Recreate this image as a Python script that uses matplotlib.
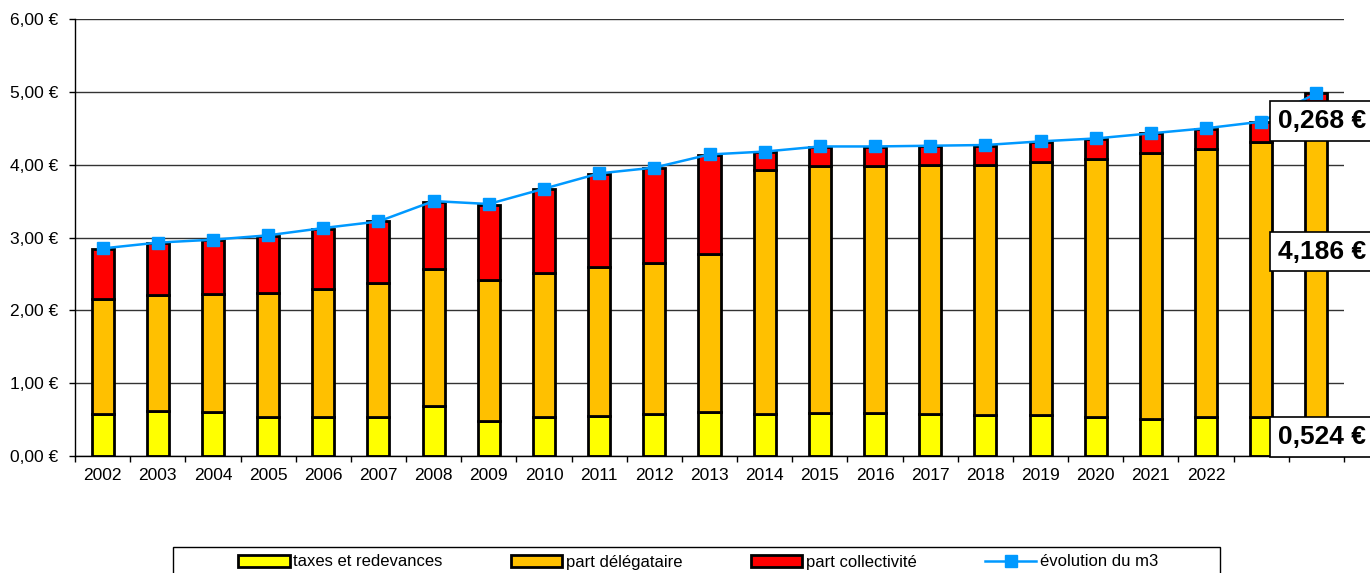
import matplotlib.pyplot as plt
import numpy as np
from matplotlib.ticker import FixedLocator, FuncFormatter, NullFormatter
from matplotlib.patches import Rectangle

plt.rcParams['font.family'] = ['Liberation Sans', 'DejaVu Sans']

# Data (€/m3)
years = ['2002', '2003', '2004', '2005', '2006', '2007', '2008', '2009', '2010', '2011',
         '2012', '2013', '2014', '2015', '2016', '2017', '2018', '2019', '2020', '2021',
         '2022', '', '']
taxes = [0.58, 0.62, 0.60, 0.54, 0.53, 0.53, 0.68, 0.48, 0.53, 0.55, 0.58, 0.60,
         0.57, 0.59, 0.59, 0.58, 0.56, 0.56, 0.53, 0.51, 0.53, 0.53, 0.524]
delegataire = [1.57, 1.59, 1.63, 1.70, 1.76, 1.84, 1.89, 1.94, 1.98, 2.04, 2.07, 2.17,
               3.35, 3.39, 3.39, 3.41, 3.43, 3.48, 3.55, 3.65, 3.69, 3.78, 4.186]
collectivite = [0.69, 0.72, 0.73, 0.78, 0.83, 0.85, 0.92, 1.03, 1.15, 1.28, 1.30, 1.36,
                0.25, 0.26, 0.26, 0.26, 0.27, 0.27, 0.27, 0.27, 0.27, 0.28, 0.268]
evolution = [2.85, 2.93, 2.97, 3.03, 3.13, 3.22, 3.50, 3.46, 3.67, 3.88, 3.96, 4.14,
             4.18, 4.25, 4.25, 4.26, 4.27, 4.32, 4.36, 4.43, 4.50, 4.59, 4.98]
labels = ['taxes et redevances', 'part délégataire', 'part collectivité', 'évolution du m3']
colors = ['#FFFF00', '#FFC000', '#FF0000']
line_color = '#0099FF'

W, H = 1370, 573
fig = plt.figure(figsize=(W / 100, H / 100), dpi=100)
ax = fig.add_axes([75 / W, (H - 456) / H, 1269 / W, 437 / H])

x = np.arange(len(years))
taxes_a = np.array(taxes)
deleg_a = np.array(delegataire)
coll_a = np.array(collectivite)

bar_kw = dict(width=0.4, edgecolor='black', linewidth=2, zorder=3)
b1 = ax.bar(x, taxes_a, color=colors[0], **bar_kw)
b2 = ax.bar(x, deleg_a, bottom=taxes_a, color=colors[1], **bar_kw)
b3 = ax.bar(x, coll_a, bottom=taxes_a + deleg_a, color=colors[2], **bar_kw)
ln, = ax.plot(x, evolution, color=line_color, lw=1.8, marker='s', markersize=9,
              markeredgecolor=line_color, zorder=5)

# axes styling
ax.set_xlim(-0.5, len(years) - 0.5)
ax.set_ylim(0, 6)
ax.set_yticks(np.arange(0, 7, 1))
ax.yaxis.set_major_formatter(FuncFormatter(lambda v, p: f'{v:.2f}'.replace('.', ',') + ' €'))
ax.set_xticks(x)
ax.set_xticklabels(years)
ax.xaxis.set_minor_locator(FixedLocator(np.arange(-0.5, len(years), 1)))
ax.xaxis.set_minor_formatter(NullFormatter())
ax.tick_params(axis='x', which='major', length=0, pad=8.5, labelsize=12.5)
ax.tick_params(axis='x', which='minor', length=4, width=1, direction='out')
ax.tick_params(axis='y', length=4, width=1, pad=8, labelsize=12.5)
ax.grid(axis='y', color='#333333', lw=1, zorder=0)
ax.set_axisbelow(True)
for s in ['top', 'right']:
    ax.spines[s].set_visible(False)
for s in ['left', 'bottom']:
    ax.spines[s].set_linewidth(1)
    ax.spines[s].set_zorder(4)

# data labels for the last bar
i = len(years) - 1
label_offsets = [0, 10, -13]  # points
segments = [(taxes_a[i], taxes_a[i] / 2),
            (deleg_a[i], taxes_a[i] + deleg_a[i] / 2),
            (coll_a[i], taxes_a[i] + deleg_a[i] + coll_a[i] / 2)]
for (val, ymid), off in zip(segments, label_offsets):
    ax.annotate(f'{val:.3f}'.replace('.', ',') + ' €', xy=(i - 0.69, ymid),
                xytext=(0, off), textcoords='offset points', ha='left', va='center',
                fontsize=19, fontweight='bold', annotation_clip=False, zorder=6,
                bbox=dict(boxstyle='square,pad=0.3', fc='white', ec='black', lw=1.2))

# legend
fig.legend([b1, b2, b3, ln], labels, loc='center', bbox_to_anchor=(698 / W, 1 - 562 / H),
           ncol=4, frameon=False, fontsize=12, handlelength=3.1, handletextpad=0.2,
           columnspacing=4.1)
fig.add_artist(Rectangle((173 / W, -0.05), 1047 / W, (H - 547) / H + 0.05,
                         transform=fig.transFigure, fill=False, ec='black', lw=1))

fig.savefig('out.png', dpi=100)
